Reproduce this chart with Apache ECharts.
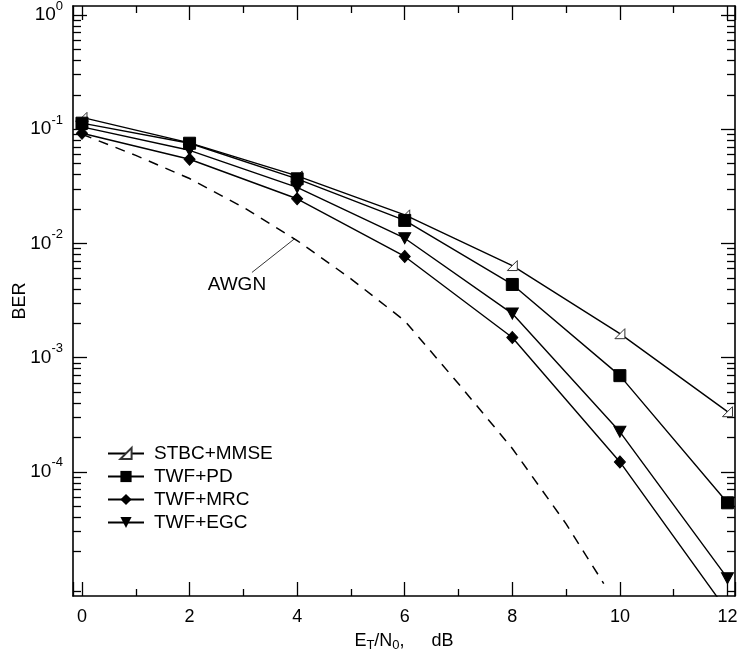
<!DOCTYPE html>
<html>
<head>
<meta charset="utf-8">
<script src="https://cdn.jsdelivr.net/npm/echarts@6/dist/echarts.min.js"></script>
<style>html,body{margin:0;padding:0;background:#fff}#c{width:740px;height:658px}</style>
</head>
<body>
<div id="c"></div>
<script>
const snr = [0, 2, 4, 6, 8, 10, 12];
const stbcMmse = [0.127, 0.076, 0.039, 0.0178, 0.0064, 0.00162, 0.000336];
const twfPd = [0.113, 0.0754, 0.0368, 0.0159, 0.00437, 0.000695, 0.0000535];
const twfMrc = [0.0922, 0.0546, 0.0246, 0.00769, 0.0015, 0.000122, 0.000006];
const twfEgc = [0.105, 0.0654, 0.031, 0.0111, 0.00243, 0.000224, 0.0000117];
const awgnSnr = [0, 1, 2, 3, 4, 5, 6, 7, 8, 9, 9.7];
const awgnBer = [0.0904, 0.059, 0.037, 0.0207, 0.0106, 0.0049, 0.0021, 0.00059, 0.00016, 0.000035, 0.0000105];
const awgnLabel = {text: 'AWGN', at: [2.88, 0.00432], from: [3.16, 0.00557], to: [3.96, 0.01106]};
const xRange = [-0.167, 12.14];
const yRange = [8.17e-6, 1.2];
const yTickValues = [1e-4, 1e-3, 1e-2, 1e-1, 1];

const FONT = "'Liberation Sans', Arial, sans-serif";
const pair = (xs, ys) => xs.map((x, i) => [x, ys[i]]);

function yLabel(v) {
  const e = Math.log10(v);
  const r = Math.round(e);
  if (Math.abs(e - r) > 0.01 || r < -4 || r > 0) return '';
  return '{b|10}{s|' + r + '}';
}
function xLabel(v) {
  if (Math.abs(v - Math.round(v)) > 1e-6) return '';
  return String(Math.round(v));
}

const axisCommonX = {
  type: 'value', min: xRange[0], max: xRange[1], splitNumber: 6,
  axisLine: {show: true, onZero: false, lineStyle: {color: '#000', width: 1.6}},
  axisTick: {show: true, inside: true, length: 14, lineStyle: {color: '#000', width: 1.3}},
  minorTick: {show: true, splitNumber: 2, length: 7, lineStyle: {color: '#000', width: 1.3}},
  splitLine: {show: false}, minorSplitLine: {show: false}
};
const axisCommonY = {
  type: 'log', logBase: 10, min: yRange[0], max: yRange[1],
  axisLine: {show: true, onZero: false, lineStyle: {color: '#000', width: 1.6}},
  axisTick: {show: true, inside: true, length: 14, customValues: yTickValues, lineStyle: {color: '#000', width: 1.3}},
  minorTick: {show: true, splitNumber: 9, length: 8, lineStyle: {color: '#000', width: 1.3}},
  splitLine: {show: false}, minorSplitLine: {show: false}
};

const lineBase = {
  type: 'line', xAxisIndex: 0, yAxisIndex: 0, clip: true,
  lineStyle: {color: '#000', width: 1.4},
  itemStyle: {color: '#000', borderColor: '#000'},
  emphasis: {disabled: true}, animation: false
};

const option = {
  animation: false,
  backgroundColor: '#fff',
  textStyle: {fontFamily: FONT},
  grid: {left: 73, right: 5, top: 6, bottom: 62, containLabel: false, outerBoundsMode: 'none'},
  legend: {
    orient: 'vertical', left: 107, top: 444, padding: 0, itemWidth: 36, itemHeight: 14, itemGap: 4,
    textStyle: {fontFamily: FONT, fontSize: 19, color: '#000', padding: [0, 0, 0, 5]},
    data: ['STBC+MMSE', 'TWF+PD', 'TWF+MRC', 'TWF+EGC']
  },
  xAxis: [
    Object.assign({}, axisCommonX, {
      position: 'bottom', nameMoveOverlap: false,
      axisLabel: {show: true, formatter: xLabel, margin: 12, fontSize: 18, color: '#000', fontFamily: FONT, showMinLabel: false, showMaxLabel: false},
      name: '{n|E}{sub|T}{n|/N}{sub|0}{n|,}{d|dB}',
      nameLocation: 'middle', nameGap: 36,
      nameTextStyle: {
        color: '#000', fontFamily: FONT,
        rich: {
          n: {fontSize: 18, color: '#000', fontFamily: FONT, verticalAlign: 'top', lineHeight: 18},
          sub: {fontSize: 13, color: '#000', fontFamily: FONT, verticalAlign: 'top', padding: [7, 0, 0, 0], lineHeight: 13},
          d: {fontSize: 18, color: '#000', fontFamily: FONT, verticalAlign: 'top', lineHeight: 18, padding: [0, 0, 0, 27]}
        }
      }
    }),
    Object.assign({}, axisCommonX, {position: 'top', axisLabel: {show: false}})
  ],
  yAxis: [
    Object.assign({}, axisCommonY, {
      position: 'left', nameMoveOverlap: false,
      axisLabel: {
        show: true, formatter: yLabel, customValues: yTickValues, margin: 10, color: '#000', fontFamily: FONT,
        rich: {
          b: {fontSize: 19, color: '#000', fontFamily: FONT, verticalAlign: 'bottom', lineHeight: 19},
          s: {fontSize: 13, color: '#000', fontFamily: FONT, verticalAlign: 'bottom', lineHeight: 13, padding: [0, 0, 12, 0]}
        }
      },
      name: 'BER', nameLocation: 'middle', nameGap: 44,
      nameTextStyle: {fontSize: 18, color: '#000', fontFamily: FONT}
    }),
    Object.assign({}, axisCommonY, {position: 'right', axisLabel: {show: false}})
  ],
  series: [
    Object.assign({}, lineBase, {
      name: 'AWGN', data: pair(awgnSnr, awgnBer), showSymbol: false, symbol: 'none',
      lineStyle: {color: '#000', width: 1.5, type: [10, 8]}, z: 1,
      markLine: {
        silent: true, symbol: ['none', 'none'], animation: false,
        lineStyle: {color: '#000', width: 0.8, type: 'solid'}, label: {show: false},
        emphasis: {disabled: true},
        data: [[{coord: awgnLabel.from}, {coord: awgnLabel.to}]]
      },
      markPoint: {
        silent: true, animation: false, symbol: 'circle', symbolSize: 1,
        itemStyle: {color: 'rgba(0,0,0,0)'},
        label: {show: true, position: 'inside', formatter: awgnLabel.text, fontSize: 19, color: '#000', fontFamily: FONT},
        data: [{coord: awgnLabel.at}]
      }
    }),
    Object.assign({}, lineBase, {
      name: 'STBC+MMSE', data: pair(snr, stbcMmse),
      symbol: 'path://M10,0 L10,10 L0,10 Z', symbolSize: 10,
      itemStyle: {color: '#fff', borderColor: '#333', borderWidth: 1}
    }),
    Object.assign({}, lineBase, {
      name: 'TWF+PD', data: pair(snr, twfPd), symbol: 'rect', symbolSize: 12
    }),
    Object.assign({}, lineBase, {
      name: 'TWF+MRC', data: pair(snr, twfMrc), symbol: 'diamond', symbolSize: [11, 12]
    }),
    Object.assign({}, lineBase, {
      name: 'TWF+EGC', data: pair(snr, twfEgc), symbol: 'triangle', symbolRotate: 180, symbolSize: [12, 11]
    })
  ]
};

const chart = echarts.init(document.getElementById('c'), null, {renderer: 'canvas'});
chart.setOption(option);
</script>
</body>
</html>
